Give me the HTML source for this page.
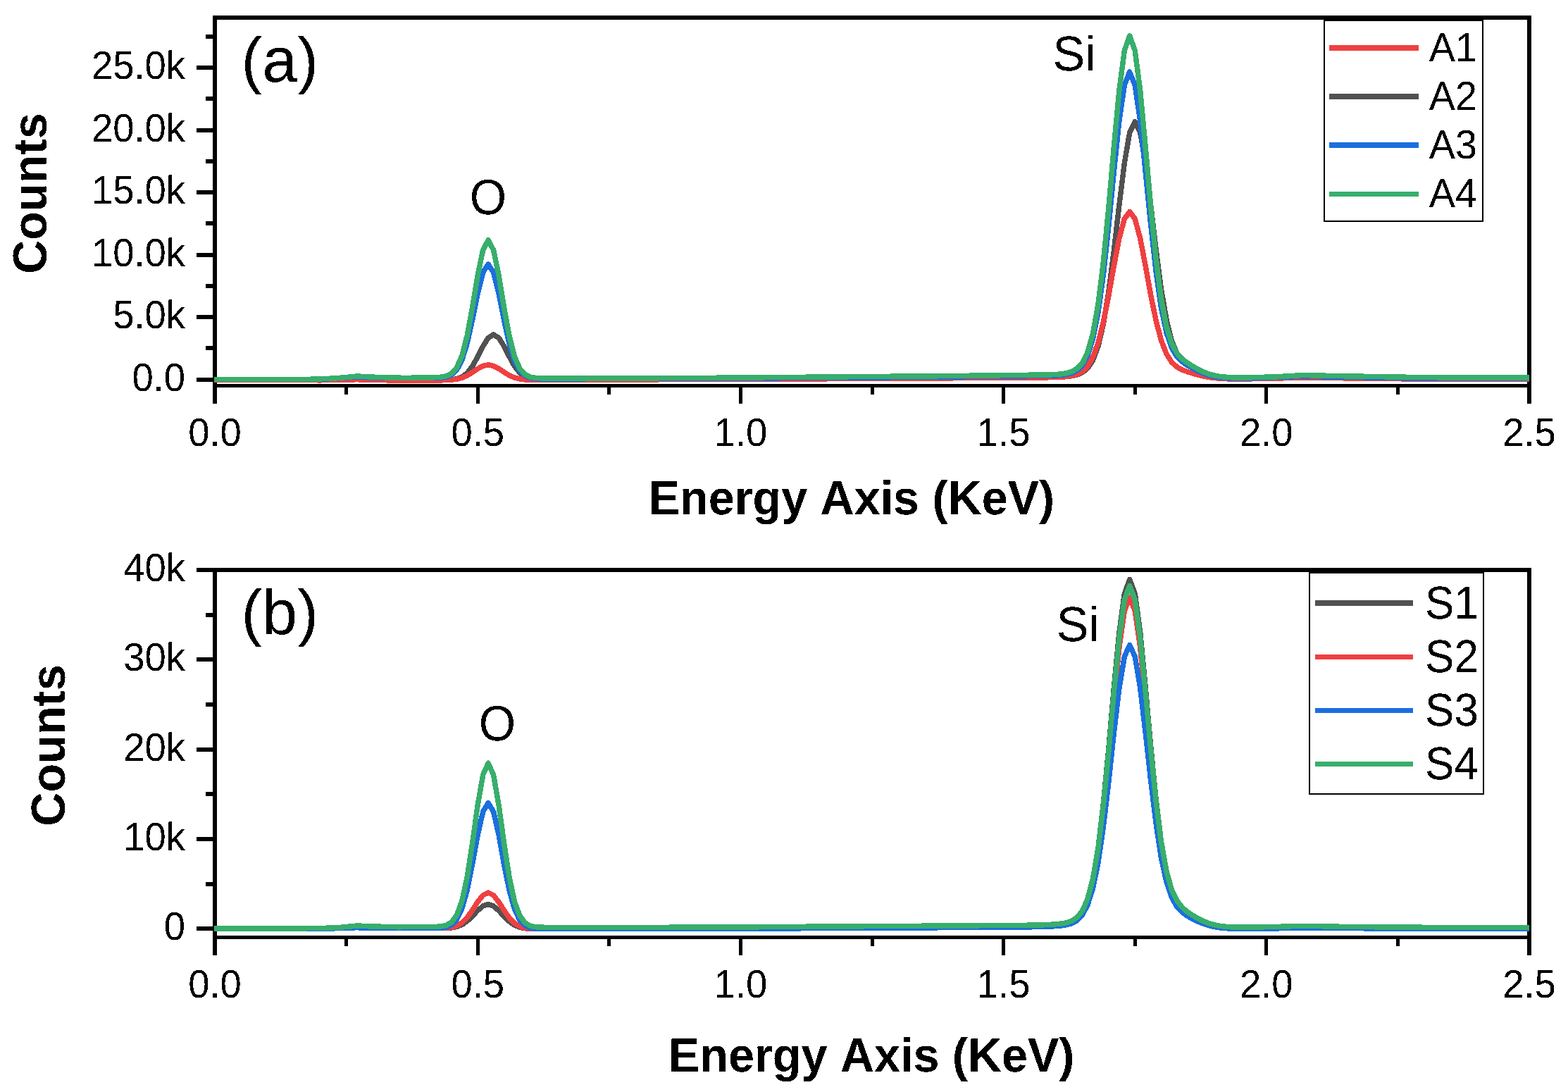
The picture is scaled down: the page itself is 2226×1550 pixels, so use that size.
<!DOCTYPE html>
<html><head><meta charset="utf-8"><title>EDS spectra</title>
<style>html,body{margin:0;padding:0;background:#fff;width:2226px;height:1550px;overflow:hidden}svg{display:block}</style>
</head><body>
<svg width="2226" height="1550" viewBox="0 0 2226 1550">
<rect width="100%" height="100%" fill="#fff"/>
<defs><filter id="bin" x="0" y="0" width="2226" height="1550" filterUnits="userSpaceOnUse" color-interpolation-filters="sRGB"><feComponentTransfer><feFuncA type="discrete" tableValues="0 1"/></feComponentTransfer></filter></defs>
<g fill="#000">
<rect x="302" y="22" width="1872" height="6"/>
<rect x="302" y="22" width="6" height="551"/>
<rect x="2168" y="22" width="6" height="551"/>
<rect x="302" y="545" width="1872" height="5"/>
<rect x="489" y="550" width="5" height="10"/>
<rect x="676" y="550" width="5" height="23"/>
<rect x="862" y="550" width="5" height="10"/>
<rect x="1049" y="550" width="5" height="23"/>
<rect x="1236" y="550" width="5" height="10"/>
<rect x="1422" y="550" width="5" height="23"/>
<rect x="1609" y="550" width="5" height="10"/>
<rect x="1795" y="550" width="5" height="23"/>
<rect x="1982" y="550" width="5" height="10"/>
<rect x="279" y="536" width="23" height="6"/>
<rect x="279" y="447" width="23" height="6"/>
<rect x="279" y="359" width="23" height="6"/>
<rect x="279" y="270" width="23" height="6"/>
<rect x="279" y="182" width="23" height="6"/>
<rect x="279" y="93" width="23" height="6"/>
<rect x="292" y="491" width="10" height="6"/>
<rect x="292" y="403" width="10" height="6"/>
<rect x="292" y="314" width="10" height="6"/>
<rect x="292" y="226" width="10" height="6"/>
<rect x="292" y="137" width="10" height="6"/>
<rect x="292" y="49" width="10" height="6"/>
<rect x="302" y="806" width="1872" height="6"/>
<rect x="302" y="806" width="6" height="550"/>
<rect x="2168" y="806" width="6" height="550"/>
<rect x="302" y="1328" width="1872" height="5"/>
<rect x="489" y="1333" width="5" height="10"/>
<rect x="676" y="1333" width="5" height="23"/>
<rect x="862" y="1333" width="5" height="10"/>
<rect x="1049" y="1333" width="5" height="23"/>
<rect x="1236" y="1333" width="5" height="10"/>
<rect x="1422" y="1333" width="5" height="23"/>
<rect x="1609" y="1333" width="5" height="10"/>
<rect x="1795" y="1333" width="5" height="23"/>
<rect x="1982" y="1333" width="5" height="10"/>
<rect x="279" y="1315" width="23" height="6"/>
<rect x="279" y="1188" width="23" height="6"/>
<rect x="279" y="1061" width="23" height="6"/>
<rect x="279" y="933" width="23" height="6"/>
<rect x="279" y="806" width="23" height="6"/>
<rect x="292" y="1252" width="10" height="6"/>
<rect x="292" y="1124" width="10" height="6"/>
<rect x="292" y="997" width="10" height="6"/>
<rect x="292" y="870" width="10" height="6"/>
</g>
<g fill="none" stroke-width="7.5" stroke-linejoin="round" stroke-linecap="butt" shape-rendering="crispEdges">
<polyline stroke="#515151" points="304.0,539.4 312.5,539.4 319.9,539.4 327.4,539.5 334.9,539.5 342.3,539.5 349.8,539.5 357.2,539.5 364.7,539.5 372.2,539.6 379.6,539.6 387.1,539.6 394.6,539.6 402.0,539.6 409.5,539.7 417.0,539.7 424.4,539.7 431.9,539.7 439.4,539.7 446.8,539.7 454.3,539.8 461.7,539.6 469.2,539.5 476.7,539.3 484.1,539.2 491.6,539.0 499.1,538.9 506.5,538.7 514.0,538.9 521.5,539.0 528.9,539.2 536.4,539.3 543.8,539.5 551.3,539.6 558.8,539.8 566.2,539.9 573.7,539.9 581.2,539.9 588.6,539.8 596.1,539.8 603.6,539.8 611.0,539.7 618.5,539.7 626.0,539.6 633.4,539.5 640.9,539.0 648.3,537.8 655.8,535.0 663.3,529.4 670.7,519.8 678.2,506.4 685.7,491.5 693.1,479.6 700.6,475.0 708.1,479.5 715.5,491.4 723.0,506.2 730.4,519.6 737.9,529.1 745.4,534.8 752.8,537.5 760.3,538.6 767.8,539.0 775.2,539.1 782.7,539.1 790.2,539.1 797.6,539.1 805.1,539.0 812.6,539.0 820.0,539.0 827.5,539.0 834.9,538.9 842.4,538.9 849.9,538.9 857.3,538.9 864.8,538.8 872.3,538.8 879.7,538.8 887.2,538.8 894.7,538.7 902.1,538.7 909.6,538.7 917.0,538.6 924.5,538.6 932.0,538.6 939.4,538.6 946.9,538.5 954.4,538.5 961.8,538.5 969.3,538.5 976.8,538.4 984.2,538.4 991.7,538.4 999.2,538.4 1006.6,538.3 1014.1,538.3 1021.5,538.3 1029.0,538.2 1036.5,538.2 1043.9,538.2 1051.4,538.2 1058.9,538.1 1066.3,538.1 1073.8,538.1 1081.3,538.0 1088.7,538.0 1096.2,538.0 1103.6,537.9 1111.1,537.9 1118.6,537.9 1126.0,537.8 1133.5,537.8 1141.0,537.7 1148.4,537.7 1155.9,537.7 1163.4,537.6 1170.8,537.6 1178.3,537.6 1185.8,537.5 1193.2,537.5 1200.7,537.5 1208.1,537.4 1215.6,537.4 1223.1,537.4 1230.5,537.3 1238.0,537.3 1245.5,537.2 1252.9,537.2 1260.4,537.2 1267.9,537.1 1275.3,537.1 1282.8,537.1 1290.2,537.0 1297.7,537.0 1305.2,536.9 1312.6,536.9 1320.1,536.8 1327.6,536.8 1335.0,536.7 1342.5,536.7 1350.0,536.6 1357.4,536.6 1364.9,536.5 1372.4,536.5 1379.8,536.4 1387.3,536.4 1394.7,536.3 1402.2,536.3 1409.7,536.2 1417.1,536.2 1424.6,536.1 1432.1,536.1 1439.5,536.0 1447.0,536.0 1454.5,535.9 1461.9,535.8 1469.4,535.8 1476.8,535.8 1484.3,535.7 1491.8,535.6 1499.2,535.4 1506.7,535.1 1514.2,534.6 1521.6,533.7 1529.1,532.0 1536.6,528.8 1544.0,522.7 1551.5,511.3 1559.0,491.4 1566.4,459.8 1573.9,414.4 1581.3,356.4 1588.8,291.9 1596.3,231.6 1603.7,188.3 1611.2,172.5 1618.7,188.1 1626.1,231.1 1633.6,290.8 1641.1,354.2 1648.5,410.6 1656.0,454.0 1663.4,483.6 1670.9,501.7 1678.4,512.2 1685.8,518.3 1693.3,522.6 1700.8,526.1 1708.2,529.2 1715.7,532.0 1723.2,534.1 1730.6,535.7 1738.1,536.8 1745.6,537.5 1753.0,537.8 1760.5,538.1 1767.9,537.9 1775.4,537.8 1782.9,537.6 1790.3,537.5 1797.8,537.3 1805.3,537.1 1812.7,536.9 1820.2,536.8 1827.7,536.6 1835.1,536.4 1842.6,536.2 1850.0,536.0 1857.5,536.1 1865.0,536.2 1872.4,536.3 1879.9,536.4 1887.4,536.5 1894.8,536.6 1902.3,536.7 1909.8,536.8 1917.2,536.9 1924.7,537.0 1932.2,537.1 1939.6,537.2 1947.1,537.2 1954.5,537.3 1962.0,537.4 1969.5,537.5 1976.9,537.6 1984.4,537.7 1991.9,537.8 1999.3,537.9 2006.8,538.0 2014.3,538.1 2021.7,538.2 2029.2,538.2 2036.6,538.2 2044.1,538.2 2051.6,538.2 2059.0,538.2 2066.5,538.2 2074.0,538.2 2081.4,538.2 2088.9,538.2 2096.4,538.3 2103.8,538.3 2111.3,538.3 2118.8,538.3 2126.2,538.3 2133.7,538.3 2141.1,538.3 2148.6,538.3 2156.1,538.3 2163.5,538.3 2171.0,538.3"/>
<polyline stroke="#EF4041" points="304.0,539.4 312.5,539.4 319.9,539.4 327.4,539.5 334.9,539.5 342.3,539.5 349.8,539.5 357.2,539.5 364.7,539.5 372.2,539.6 379.6,539.6 387.1,539.6 394.6,539.6 402.0,539.6 409.5,539.7 417.0,539.7 424.4,539.7 431.9,539.7 439.4,539.7 446.8,539.7 454.3,539.8 461.7,539.6 469.2,539.5 476.7,539.3 484.1,539.2 491.6,539.0 499.1,538.9 506.5,538.7 514.0,538.9 521.5,539.1 528.9,539.2 536.4,539.4 543.8,539.6 551.3,539.8 558.8,539.9 566.2,540.1 573.7,540.1 581.2,540.0 588.6,540.0 596.1,540.0 603.6,539.9 611.0,539.9 618.5,539.9 626.0,539.8 633.4,539.6 640.9,539.2 648.3,538.2 655.8,536.3 663.3,533.0 670.7,528.5 678.2,523.4 685.7,519.4 693.1,517.8 700.6,519.4 708.1,523.4 715.5,528.3 723.0,532.8 730.4,536.1 737.9,537.9 745.4,538.9 752.8,539.2 760.3,539.3 767.8,539.3 775.2,539.3 782.7,539.3 790.2,539.3 797.6,539.2 805.1,539.2 812.6,539.2 820.0,539.2 827.5,539.1 834.9,539.1 842.4,539.1 849.9,539.1 857.3,539.0 864.8,539.0 872.3,539.0 879.7,539.0 887.2,538.9 894.7,538.9 902.1,538.9 909.6,538.9 917.0,538.8 924.5,538.8 932.0,538.8 939.4,538.7 946.9,538.7 954.4,538.7 961.8,538.7 969.3,538.6 976.8,538.6 984.2,538.6 991.7,538.6 999.2,538.5 1006.6,538.5 1014.1,538.5 1021.5,538.5 1029.0,538.4 1036.5,538.4 1043.9,538.4 1051.4,538.3 1058.9,538.3 1066.3,538.3 1073.8,538.2 1081.3,538.2 1088.7,538.2 1096.2,538.1 1103.6,538.1 1111.1,538.1 1118.6,538.0 1126.0,538.0 1133.5,538.0 1141.0,537.9 1148.4,537.9 1155.9,537.9 1163.4,537.8 1170.8,537.8 1178.3,537.7 1185.8,537.7 1193.2,537.7 1200.7,537.6 1208.1,537.6 1215.6,537.6 1223.1,537.5 1230.5,537.5 1238.0,537.5 1245.5,537.4 1252.9,537.4 1260.4,537.4 1267.9,537.3 1275.3,537.3 1282.8,537.2 1290.2,537.2 1297.7,537.1 1305.2,537.1 1312.6,537.0 1320.1,537.0 1327.6,536.9 1335.0,536.9 1342.5,536.8 1350.0,536.8 1357.4,536.7 1364.9,536.7 1372.4,536.6 1379.8,536.6 1387.3,536.5 1394.7,536.5 1402.2,536.4 1409.7,536.4 1417.1,536.3 1424.6,536.3 1432.1,536.2 1439.5,536.2 1447.0,536.1 1454.5,536.1 1461.9,536.0 1469.4,536.0 1476.8,535.9 1484.3,535.8 1491.8,535.7 1499.2,535.5 1506.7,535.1 1514.2,534.5 1521.6,533.5 1529.1,531.4 1536.6,527.3 1544.0,520.0 1551.5,507.1 1559.0,486.6 1566.4,457.2 1573.9,419.6 1581.3,377.8 1588.8,338.8 1596.3,310.7 1603.7,300.5 1611.2,310.6 1618.7,338.5 1626.1,377.2 1633.6,418.4 1641.1,455.0 1648.5,483.2 1656.0,502.4 1663.4,514.2 1670.9,521.0 1678.4,525.0 1685.8,527.7 1693.3,530.1 1700.8,532.1 1708.2,533.9 1715.7,535.4 1723.2,536.4 1730.6,537.1 1738.1,537.6 1745.6,537.9 1753.0,538.0 1760.5,538.1 1767.9,538.0 1775.4,537.8 1782.9,537.6 1790.3,537.5 1797.8,537.3 1805.3,537.1 1812.7,536.9 1820.2,536.8 1827.7,536.6 1835.1,536.4 1842.6,536.2 1850.0,536.0 1857.5,536.1 1865.0,536.2 1872.4,536.3 1879.9,536.4 1887.4,536.5 1894.8,536.6 1902.3,536.7 1909.8,536.8 1917.2,536.9 1924.7,537.0 1932.2,537.1 1939.6,537.2 1947.1,537.2 1954.5,537.3 1962.0,537.4 1969.5,537.5 1976.9,537.6 1984.4,537.7 1991.9,537.8 1999.3,537.9 2006.8,538.0 2014.3,538.1 2021.7,538.2 2029.2,538.2 2036.6,538.2 2044.1,538.2 2051.6,538.2 2059.0,538.2 2066.5,538.2 2074.0,538.2 2081.4,538.2 2088.9,538.2 2096.4,538.3 2103.8,538.3 2111.3,538.3 2118.8,538.3 2126.2,538.3 2133.7,538.3 2141.1,538.3 2148.6,538.3 2156.1,538.3 2163.5,538.3 2171.0,538.3"/>
<polyline stroke="#1B6FDE" points="304.0,538.7 312.5,538.7 319.9,538.7 327.4,538.7 334.9,538.7 342.3,538.7 349.8,538.6 357.2,538.6 364.7,538.6 372.2,538.6 379.6,538.6 387.1,538.6 394.6,538.6 402.0,538.6 409.5,538.6 417.0,538.6 424.4,538.6 431.9,538.5 439.4,538.5 446.8,538.5 454.3,538.5 461.7,538.0 469.2,537.6 476.7,537.1 484.1,536.6 491.6,536.1 499.1,535.6 506.5,535.2 514.0,535.5 521.5,535.9 528.9,536.2 536.4,536.6 543.8,536.6 551.3,536.6 558.8,536.6 566.2,536.6 573.7,536.6 581.2,536.6 588.6,536.6 596.1,536.6 603.6,536.6 611.0,536.6 618.5,536.5 626.0,536.2 633.4,535.2 640.9,532.3 648.3,525.4 655.8,511.2 663.3,487.2 670.7,453.6 678.2,416.4 685.7,386.6 693.1,375.1 700.6,386.8 708.1,416.8 715.5,454.2 723.0,488.0 730.4,512.2 737.9,526.5 745.4,533.6 752.8,536.6 760.3,537.6 767.8,537.8 775.2,537.9 782.7,537.9 790.2,537.9 797.6,537.9 805.1,537.8 812.6,537.8 820.0,537.8 827.5,537.8 834.9,537.7 842.4,537.7 849.9,537.7 857.3,537.7 864.8,537.7 872.3,537.6 879.7,537.6 887.2,537.6 894.7,537.6 902.1,537.5 909.6,537.5 917.0,537.5 924.5,537.5 932.0,537.5 939.4,537.4 946.9,537.4 954.4,537.4 961.8,537.4 969.3,537.4 976.8,537.3 984.2,537.3 991.7,537.3 999.2,537.3 1006.6,537.2 1014.1,537.2 1021.5,537.2 1029.0,537.2 1036.5,537.2 1043.9,537.1 1051.4,537.1 1058.9,537.1 1066.3,537.0 1073.8,537.0 1081.3,536.9 1088.7,536.9 1096.2,536.8 1103.6,536.8 1111.1,536.7 1118.6,536.7 1126.0,536.6 1133.5,536.6 1141.0,536.5 1148.4,536.5 1155.9,536.4 1163.4,536.4 1170.8,536.4 1178.3,536.3 1185.8,536.3 1193.2,536.2 1200.7,536.2 1208.1,536.1 1215.6,536.1 1223.1,536.0 1230.5,536.0 1238.0,535.9 1245.5,535.9 1252.9,535.8 1260.4,535.8 1267.9,535.7 1275.3,535.7 1282.8,535.6 1290.2,535.5 1297.7,535.5 1305.2,535.4 1312.6,535.3 1320.1,535.2 1327.6,535.1 1335.0,535.1 1342.5,535.0 1350.0,534.9 1357.4,534.8 1364.9,534.8 1372.4,534.7 1379.8,534.6 1387.3,534.5 1394.7,534.4 1402.2,534.4 1409.7,534.3 1417.1,534.2 1424.6,534.1 1432.1,534.1 1439.5,534.0 1447.0,533.9 1454.5,533.8 1461.9,533.7 1469.4,533.7 1476.8,533.6 1484.3,533.5 1491.8,533.3 1499.2,533.0 1506.7,532.4 1514.2,531.4 1521.6,529.4 1529.1,525.6 1536.6,518.3 1544.0,504.8 1551.5,481.2 1559.0,443.6 1566.4,389.6 1573.9,320.7 1581.3,244.1 1588.8,172.4 1596.3,120.9 1603.7,102.1 1611.2,120.7 1618.7,171.8 1626.1,242.8 1633.6,318.2 1641.1,385.3 1648.5,437.0 1656.0,472.2 1663.4,493.8 1670.9,506.2 1678.4,513.5 1685.8,518.6 1693.3,522.8 1700.8,526.6 1708.2,529.8 1715.7,532.5 1723.2,534.4 1730.6,535.7 1738.1,536.5 1745.6,536.9 1753.0,537.2 1760.5,537.4 1767.9,537.2 1775.4,536.9 1782.9,536.7 1790.3,536.4 1797.8,536.1 1805.3,535.9 1812.7,535.6 1820.2,535.3 1827.7,535.1 1835.1,534.8 1842.6,534.5 1850.0,534.3 1857.5,534.4 1865.0,534.5 1872.4,534.7 1879.9,534.8 1887.4,534.9 1894.8,535.1 1902.3,535.2 1909.8,535.3 1917.2,535.5 1924.7,535.6 1932.2,535.7 1939.6,535.8 1947.1,536.0 1954.5,536.1 1962.0,536.2 1969.5,536.4 1976.9,536.5 1984.4,536.6 1991.9,536.8 1999.3,536.9 2006.8,537.0 2014.3,537.2 2021.7,537.3 2029.2,537.3 2036.6,537.3 2044.1,537.3 2051.6,537.4 2059.0,537.4 2066.5,537.4 2074.0,537.4 2081.4,537.4 2088.9,537.4 2096.4,537.5 2103.8,537.5 2111.3,537.5 2118.8,537.5 2126.2,537.5 2133.7,537.5 2141.1,537.6 2148.6,537.6 2156.1,537.6 2163.5,537.6 2171.0,537.6"/>
<polyline stroke="#38AE6C" points="304.0,538.7 312.5,538.7 319.9,538.7 327.4,538.6 334.9,538.6 342.3,538.6 349.8,538.6 357.2,538.6 364.7,538.5 372.2,538.5 379.6,538.5 387.1,538.5 394.6,538.5 402.0,538.4 409.5,538.4 417.0,538.4 424.4,538.4 431.9,538.4 439.4,538.3 446.8,538.1 454.3,537.8 461.7,537.5 469.2,537.2 476.7,536.9 484.1,536.2 491.6,535.5 499.1,534.7 506.5,534.0 514.0,534.4 521.5,534.8 528.9,535.1 536.4,535.5 543.8,535.7 551.3,535.9 558.8,536.0 566.2,536.2 573.7,536.4 581.2,536.3 588.6,536.2 596.1,536.1 603.6,536.0 611.0,535.9 618.5,535.7 626.0,535.2 633.4,533.9 640.9,530.3 648.3,522.0 655.8,505.0 663.3,476.0 670.7,435.6 678.2,390.8 685.7,354.8 693.1,340.9 700.6,355.0 708.1,391.1 715.5,436.1 723.0,476.8 730.4,505.9 737.9,523.1 745.4,531.6 752.8,535.2 760.3,536.4 767.8,536.8 775.2,536.9 782.7,536.9 790.2,536.9 797.6,536.9 805.1,536.9 812.6,536.9 820.0,536.9 827.5,536.9 834.9,536.9 842.4,536.9 849.9,536.9 857.3,536.9 864.8,536.9 872.3,536.9 879.7,536.9 887.2,536.9 894.7,536.9 902.1,536.9 909.6,536.9 917.0,536.8 924.5,536.8 932.0,536.8 939.4,536.7 946.9,536.7 954.4,536.6 961.8,536.6 969.3,536.5 976.8,536.5 984.2,536.4 991.7,536.4 999.2,536.4 1006.6,536.3 1014.1,536.3 1021.5,536.2 1029.0,536.2 1036.5,536.1 1043.9,536.1 1051.4,536.0 1058.9,536.0 1066.3,535.9 1073.8,535.9 1081.3,535.8 1088.7,535.7 1096.2,535.7 1103.6,535.6 1111.1,535.5 1118.6,535.5 1126.0,535.4 1133.5,535.4 1141.0,535.3 1148.4,535.2 1155.9,535.2 1163.4,535.1 1170.8,535.1 1178.3,535.0 1185.8,534.9 1193.2,534.9 1200.7,534.8 1208.1,534.7 1215.6,534.7 1223.1,534.6 1230.5,534.6 1238.0,534.5 1245.5,534.4 1252.9,534.4 1260.4,534.3 1267.9,534.2 1275.3,534.2 1282.8,534.1 1290.2,534.1 1297.7,534.0 1305.2,533.9 1312.6,533.9 1320.1,533.8 1327.6,533.8 1335.0,533.7 1342.5,533.6 1350.0,533.6 1357.4,533.5 1364.9,533.4 1372.4,533.3 1379.8,533.2 1387.3,533.2 1394.7,533.1 1402.2,533.0 1409.7,532.9 1417.1,532.8 1424.6,532.7 1432.1,532.7 1439.5,532.6 1447.0,532.5 1454.5,532.4 1461.9,532.2 1469.4,532.2 1476.8,532.2 1484.3,532.1 1491.8,531.8 1499.2,531.5 1506.7,530.8 1514.2,529.6 1521.6,527.4 1529.1,523.2 1536.6,515.1 1544.0,499.9 1551.5,473.6 1559.0,431.7 1566.4,371.5 1573.9,294.7 1581.3,209.1 1588.8,129.2 1596.3,71.8 1603.7,50.8 1611.2,71.6 1618.7,128.6 1626.1,207.7 1633.6,291.8 1641.1,366.6 1648.5,424.3 1656.0,463.5 1663.4,487.6 1670.9,501.4 1678.4,509.6 1685.8,515.2 1693.3,519.9 1700.8,524.1 1708.2,527.8 1715.7,530.7 1723.2,532.8 1730.6,534.2 1738.1,535.1 1745.6,535.6 1753.0,536.0 1760.5,536.2 1767.9,536.0 1775.4,535.8 1782.9,535.6 1790.3,535.4 1797.8,535.2 1805.3,535.0 1812.7,534.8 1820.2,534.3 1827.7,533.9 1835.1,533.4 1842.6,533.0 1850.0,532.5 1857.5,532.7 1865.0,532.9 1872.4,533.0 1879.9,533.2 1887.4,533.4 1894.8,533.5 1902.3,533.6 1909.8,533.8 1917.2,533.9 1924.7,534.0 1932.2,534.2 1939.6,534.3 1947.1,534.4 1954.5,534.5 1962.0,534.7 1969.5,534.8 1976.9,534.9 1984.4,535.1 1991.9,535.2 1999.3,535.3 2006.8,535.4 2014.3,535.6 2021.7,535.7 2029.2,535.7 2036.6,535.7 2044.1,535.8 2051.6,535.8 2059.0,535.8 2066.5,535.9 2074.0,535.9 2081.4,535.9 2088.9,535.9 2096.4,536.0 2103.8,536.0 2111.3,536.0 2118.8,536.0 2126.2,536.1 2133.7,536.1 2141.1,536.1 2148.6,536.1 2156.1,536.2 2163.5,536.2 2171.0,536.2"/>
<polyline stroke="#515151" points="304.0,1318.6 312.5,1318.6 319.9,1318.6 327.4,1318.6 334.9,1318.6 342.3,1318.6 349.8,1318.5 357.2,1318.5 364.7,1318.5 372.2,1318.5 379.6,1318.5 387.1,1318.5 394.6,1318.5 402.0,1318.5 409.5,1318.5 417.0,1318.5 424.4,1318.5 431.9,1318.5 439.4,1318.5 446.8,1318.5 454.3,1318.5 461.7,1318.2 469.2,1317.9 476.7,1317.7 484.1,1317.4 491.6,1317.2 499.1,1316.9 506.5,1316.7 514.0,1316.9 521.5,1317.2 528.9,1317.4 536.4,1317.5 543.8,1317.5 551.3,1317.5 558.8,1317.5 566.2,1317.6 573.7,1317.6 581.2,1317.6 588.6,1317.6 596.1,1317.7 603.6,1317.7 611.0,1317.7 618.5,1317.7 626.0,1317.7 633.4,1317.5 640.9,1316.9 648.3,1315.5 655.8,1312.5 663.3,1307.4 670.7,1300.3 678.2,1292.4 685.7,1286.0 693.1,1283.6 700.6,1286.1 708.1,1292.6 715.5,1300.6 723.0,1307.9 730.4,1313.1 737.9,1316.2 745.4,1317.7 752.8,1318.4 760.3,1318.6 767.8,1318.7 775.2,1318.7 782.7,1318.7 790.2,1318.6 797.6,1318.6 805.1,1318.6 812.6,1318.6 820.0,1318.6 827.5,1318.6 834.9,1318.6 842.4,1318.6 849.9,1318.5 857.3,1318.5 864.8,1318.5 872.3,1318.5 879.7,1318.5 887.2,1318.5 894.7,1318.5 902.1,1318.5 909.6,1318.4 917.0,1318.4 924.5,1318.4 932.0,1318.4 939.4,1318.4 946.9,1318.4 954.4,1318.4 961.8,1318.4 969.3,1318.3 976.8,1318.3 984.2,1318.3 991.7,1318.3 999.2,1318.3 1006.6,1318.3 1014.1,1318.3 1021.5,1318.3 1029.0,1318.2 1036.5,1318.2 1043.9,1318.2 1051.4,1318.2 1058.9,1318.2 1066.3,1318.1 1073.8,1318.1 1081.3,1318.0 1088.7,1318.0 1096.2,1318.0 1103.6,1317.9 1111.1,1317.9 1118.6,1317.9 1126.0,1317.8 1133.5,1317.8 1141.0,1317.7 1148.4,1317.7 1155.9,1317.7 1163.4,1317.6 1170.8,1317.6 1178.3,1317.6 1185.8,1317.5 1193.2,1317.5 1200.7,1317.4 1208.1,1317.4 1215.6,1317.4 1223.1,1317.3 1230.5,1317.3 1238.0,1317.2 1245.5,1317.2 1252.9,1317.2 1260.4,1317.1 1267.9,1317.1 1275.3,1317.1 1282.8,1317.0 1290.2,1317.0 1297.7,1316.9 1305.2,1316.9 1312.6,1316.9 1320.1,1316.8 1327.6,1316.8 1335.0,1316.7 1342.5,1316.7 1350.0,1316.7 1357.4,1316.6 1364.9,1316.6 1372.4,1316.5 1379.8,1316.5 1387.3,1316.4 1394.7,1316.4 1402.2,1316.3 1409.7,1316.3 1417.1,1316.2 1424.6,1316.2 1432.1,1316.1 1439.5,1316.0 1447.0,1316.0 1454.5,1315.9 1461.9,1315.8 1469.4,1315.7 1476.8,1315.5 1484.3,1315.2 1491.8,1314.8 1499.2,1314.2 1506.7,1313.5 1514.2,1312.0 1521.6,1309.4 1529.1,1304.3 1536.6,1294.6 1544.0,1277.2 1551.5,1248.0 1559.0,1203.0 1566.4,1140.3 1573.9,1062.2 1581.3,977.0 1588.8,898.7 1596.3,842.9 1603.7,822.6 1611.2,842.5 1618.7,897.7 1626.1,975.1 1633.6,1058.7 1641.1,1134.6 1648.5,1194.7 1656.0,1237.0 1663.4,1264.0 1670.9,1280.1 1678.4,1289.7 1685.8,1296.2 1693.3,1301.3 1700.8,1305.7 1708.2,1309.5 1715.7,1312.6 1723.2,1314.8 1730.6,1316.4 1738.1,1317.4 1745.6,1317.9 1753.0,1318.3 1760.5,1318.5 1767.9,1318.4 1775.4,1318.3 1782.9,1318.2 1790.3,1318.1 1797.8,1318.0 1805.3,1317.9 1812.7,1317.8 1820.2,1317.7 1827.7,1317.6 1835.1,1317.4 1842.6,1317.5 1850.0,1317.5 1857.5,1317.5 1865.0,1317.5 1872.4,1317.5 1879.9,1317.6 1887.4,1317.6 1894.8,1317.6 1902.3,1317.6 1909.8,1317.7 1917.2,1317.7 1924.7,1317.7 1932.2,1317.7 1939.6,1317.8 1947.1,1317.8 1954.5,1317.8 1962.0,1317.8 1969.5,1317.8 1976.9,1317.9 1984.4,1317.9 1991.9,1317.9 1999.3,1317.9 2006.8,1318.0 2014.3,1318.0 2021.7,1318.0 2029.2,1318.0 2036.6,1318.0 2044.1,1318.1 2051.6,1318.1 2059.0,1318.1 2066.5,1318.1 2074.0,1318.2 2081.4,1318.2 2088.9,1318.2 2096.4,1318.2 2103.8,1318.3 2111.3,1318.3 2118.8,1318.3 2126.2,1318.3 2133.7,1318.3 2141.1,1318.4 2148.6,1318.4 2156.1,1318.4 2163.5,1318.4 2171.0,1318.5"/>
<polyline stroke="#EF4041" points="304.0,1318.6 312.5,1318.6 319.9,1318.6 327.4,1318.6 334.9,1318.6 342.3,1318.6 349.8,1318.5 357.2,1318.5 364.7,1318.5 372.2,1318.5 379.6,1318.5 387.1,1318.5 394.6,1318.5 402.0,1318.5 409.5,1318.5 417.0,1318.5 424.4,1318.5 431.9,1318.5 439.4,1318.5 446.8,1318.5 454.3,1318.5 461.7,1318.2 469.2,1317.9 476.7,1317.7 484.1,1317.4 491.6,1317.2 499.1,1316.9 506.5,1316.7 514.0,1316.9 521.5,1317.2 528.9,1317.4 536.4,1317.5 543.8,1317.5 551.3,1317.5 558.8,1317.5 566.2,1317.6 573.7,1317.6 581.2,1317.6 588.6,1317.6 596.1,1317.7 603.6,1317.7 611.0,1317.7 618.5,1317.7 626.0,1317.6 633.4,1317.3 640.9,1316.5 648.3,1314.3 655.8,1309.9 663.3,1302.3 670.7,1291.8 678.2,1280.0 685.7,1270.6 693.1,1267.1 700.6,1270.8 708.1,1280.3 715.5,1292.1 723.0,1302.8 730.4,1310.5 737.9,1315.0 745.4,1317.3 752.8,1318.3 760.3,1318.6 767.8,1318.7 775.2,1318.7 782.7,1318.7 790.2,1318.6 797.6,1318.6 805.1,1318.6 812.6,1318.6 820.0,1318.6 827.5,1318.6 834.9,1318.6 842.4,1318.6 849.9,1318.5 857.3,1318.5 864.8,1318.5 872.3,1318.5 879.7,1318.5 887.2,1318.5 894.7,1318.5 902.1,1318.5 909.6,1318.4 917.0,1318.4 924.5,1318.4 932.0,1318.4 939.4,1318.4 946.9,1318.4 954.4,1318.4 961.8,1318.4 969.3,1318.3 976.8,1318.3 984.2,1318.3 991.7,1318.3 999.2,1318.3 1006.6,1318.3 1014.1,1318.3 1021.5,1318.3 1029.0,1318.2 1036.5,1318.2 1043.9,1318.2 1051.4,1318.2 1058.9,1318.2 1066.3,1318.1 1073.8,1318.1 1081.3,1318.0 1088.7,1318.0 1096.2,1318.0 1103.6,1317.9 1111.1,1317.9 1118.6,1317.9 1126.0,1317.8 1133.5,1317.8 1141.0,1317.7 1148.4,1317.7 1155.9,1317.7 1163.4,1317.6 1170.8,1317.6 1178.3,1317.6 1185.8,1317.5 1193.2,1317.5 1200.7,1317.4 1208.1,1317.4 1215.6,1317.4 1223.1,1317.3 1230.5,1317.3 1238.0,1317.2 1245.5,1317.2 1252.9,1317.2 1260.4,1317.1 1267.9,1317.1 1275.3,1317.1 1282.8,1317.0 1290.2,1317.0 1297.7,1316.9 1305.2,1316.9 1312.6,1316.9 1320.1,1316.8 1327.6,1316.8 1335.0,1316.7 1342.5,1316.7 1350.0,1316.7 1357.4,1316.6 1364.9,1316.6 1372.4,1316.5 1379.8,1316.5 1387.3,1316.4 1394.7,1316.4 1402.2,1316.3 1409.7,1316.3 1417.1,1316.2 1424.6,1316.2 1432.1,1316.1 1439.5,1316.0 1447.0,1316.0 1454.5,1315.9 1461.9,1315.8 1469.4,1315.7 1476.8,1315.5 1484.3,1315.2 1491.8,1314.9 1499.2,1314.3 1506.7,1313.6 1514.2,1312.2 1521.6,1309.7 1529.1,1304.9 1536.6,1295.7 1544.0,1279.2 1551.5,1251.5 1559.0,1208.8 1566.4,1149.3 1573.9,1075.2 1581.3,994.4 1588.8,920.0 1596.3,867.1 1603.7,847.8 1611.2,866.8 1618.7,919.1 1626.1,992.5 1633.6,1071.8 1641.1,1143.9 1648.5,1201.0 1656.0,1241.1 1663.4,1266.7 1670.9,1282.0 1678.4,1291.2 1685.8,1297.3 1693.3,1302.2 1700.8,1306.4 1708.2,1310.0 1715.7,1312.9 1723.2,1315.0 1730.6,1316.5 1738.1,1317.4 1745.6,1318.0 1753.0,1318.3 1760.5,1318.5 1767.9,1318.4 1775.4,1318.3 1782.9,1318.2 1790.3,1318.1 1797.8,1318.0 1805.3,1317.9 1812.7,1317.8 1820.2,1317.7 1827.7,1317.6 1835.1,1317.4 1842.6,1317.5 1850.0,1317.5 1857.5,1317.5 1865.0,1317.5 1872.4,1317.5 1879.9,1317.6 1887.4,1317.6 1894.8,1317.6 1902.3,1317.6 1909.8,1317.7 1917.2,1317.7 1924.7,1317.7 1932.2,1317.7 1939.6,1317.8 1947.1,1317.8 1954.5,1317.8 1962.0,1317.8 1969.5,1317.8 1976.9,1317.9 1984.4,1317.9 1991.9,1317.9 1999.3,1317.9 2006.8,1318.0 2014.3,1318.0 2021.7,1318.0 2029.2,1318.0 2036.6,1318.0 2044.1,1318.1 2051.6,1318.1 2059.0,1318.1 2066.5,1318.1 2074.0,1318.2 2081.4,1318.2 2088.9,1318.2 2096.4,1318.2 2103.8,1318.3 2111.3,1318.3 2118.8,1318.3 2126.2,1318.3 2133.7,1318.3 2141.1,1318.4 2148.6,1318.4 2156.1,1318.4 2163.5,1318.4 2171.0,1318.5"/>
<polyline stroke="#1B6FDE" points="304.0,1318.6 312.5,1318.6 319.9,1318.6 327.4,1318.6 334.9,1318.6 342.3,1318.6 349.8,1318.5 357.2,1318.5 364.7,1318.5 372.2,1318.5 379.6,1318.5 387.1,1318.5 394.6,1318.5 402.0,1318.5 409.5,1318.5 417.0,1318.5 424.4,1318.5 431.9,1318.5 439.4,1318.5 446.8,1318.5 454.3,1318.5 461.7,1318.2 469.2,1317.9 476.7,1317.7 484.1,1317.4 491.6,1317.2 499.1,1316.9 506.5,1316.7 514.0,1316.9 521.5,1317.2 528.9,1317.4 536.4,1317.5 543.8,1317.5 551.3,1317.5 558.8,1317.5 566.2,1317.6 573.7,1317.6 581.2,1317.6 588.6,1317.6 596.1,1317.7 603.6,1317.7 611.0,1317.7 618.5,1317.6 626.0,1317.3 633.4,1316.2 640.9,1313.0 648.3,1305.4 655.8,1289.8 663.3,1263.2 670.7,1226.1 678.2,1185.1 685.7,1152.1 693.1,1139.4 700.6,1152.2 708.1,1185.3 715.5,1226.5 723.0,1263.7 730.4,1290.4 737.9,1306.1 745.4,1313.9 752.8,1317.1 760.3,1318.2 767.8,1318.6 775.2,1318.6 782.7,1318.7 790.2,1318.6 797.6,1318.6 805.1,1318.6 812.6,1318.6 820.0,1318.6 827.5,1318.6 834.9,1318.6 842.4,1318.6 849.9,1318.5 857.3,1318.5 864.8,1318.5 872.3,1318.5 879.7,1318.5 887.2,1318.5 894.7,1318.5 902.1,1318.5 909.6,1318.4 917.0,1318.4 924.5,1318.4 932.0,1318.4 939.4,1318.4 946.9,1318.4 954.4,1318.4 961.8,1318.4 969.3,1318.3 976.8,1318.3 984.2,1318.3 991.7,1318.3 999.2,1318.3 1006.6,1318.3 1014.1,1318.3 1021.5,1318.3 1029.0,1318.2 1036.5,1318.2 1043.9,1318.2 1051.4,1318.2 1058.9,1318.2 1066.3,1318.1 1073.8,1318.1 1081.3,1318.0 1088.7,1318.0 1096.2,1318.0 1103.6,1317.9 1111.1,1317.9 1118.6,1317.9 1126.0,1317.8 1133.5,1317.8 1141.0,1317.7 1148.4,1317.7 1155.9,1317.7 1163.4,1317.6 1170.8,1317.6 1178.3,1317.6 1185.8,1317.5 1193.2,1317.5 1200.7,1317.4 1208.1,1317.4 1215.6,1317.4 1223.1,1317.3 1230.5,1317.3 1238.0,1317.2 1245.5,1317.2 1252.9,1317.2 1260.4,1317.1 1267.9,1317.1 1275.3,1317.1 1282.8,1317.0 1290.2,1317.0 1297.7,1316.9 1305.2,1316.9 1312.6,1316.9 1320.1,1316.8 1327.6,1316.8 1335.0,1316.7 1342.5,1316.7 1350.0,1316.7 1357.4,1316.6 1364.9,1316.6 1372.4,1316.5 1379.8,1316.5 1387.3,1316.4 1394.7,1316.4 1402.2,1316.3 1409.7,1316.3 1417.1,1316.2 1424.6,1316.2 1432.1,1316.1 1439.5,1316.0 1447.0,1316.0 1454.5,1315.9 1461.9,1315.8 1469.4,1315.7 1476.8,1315.5 1484.3,1315.3 1491.8,1315.0 1499.2,1314.5 1506.7,1313.9 1514.2,1312.7 1521.6,1310.6 1529.1,1306.5 1536.6,1298.6 1544.0,1284.5 1551.5,1260.9 1559.0,1224.3 1566.4,1173.4 1573.9,1110.0 1581.3,1040.9 1588.8,977.3 1596.3,932.1 1603.7,915.6 1611.2,931.8 1618.7,976.6 1626.1,1039.4 1633.6,1107.3 1641.1,1169.0 1648.5,1217.8 1656.0,1252.1 1663.4,1274.0 1670.9,1287.1 1678.4,1295.0 1685.8,1300.3 1693.3,1304.4 1700.8,1308.0 1708.2,1311.1 1715.7,1313.6 1723.2,1315.5 1730.6,1316.7 1738.1,1317.5 1745.6,1318.0 1753.0,1318.3 1760.5,1318.5 1767.9,1318.4 1775.4,1318.3 1782.9,1318.2 1790.3,1318.1 1797.8,1318.0 1805.3,1317.9 1812.7,1317.8 1820.2,1317.7 1827.7,1317.6 1835.1,1317.4 1842.6,1317.5 1850.0,1317.5 1857.5,1317.5 1865.0,1317.5 1872.4,1317.5 1879.9,1317.6 1887.4,1317.6 1894.8,1317.6 1902.3,1317.6 1909.8,1317.7 1917.2,1317.7 1924.7,1317.7 1932.2,1317.7 1939.6,1317.8 1947.1,1317.8 1954.5,1317.8 1962.0,1317.8 1969.5,1317.8 1976.9,1317.9 1984.4,1317.9 1991.9,1317.9 1999.3,1317.9 2006.8,1318.0 2014.3,1318.0 2021.7,1318.0 2029.2,1318.0 2036.6,1318.0 2044.1,1318.1 2051.6,1318.1 2059.0,1318.1 2066.5,1318.1 2074.0,1318.2 2081.4,1318.2 2088.9,1318.2 2096.4,1318.2 2103.8,1318.3 2111.3,1318.3 2118.8,1318.3 2126.2,1318.3 2133.7,1318.3 2141.1,1318.4 2148.6,1318.4 2156.1,1318.4 2163.5,1318.4 2171.0,1318.5"/>
<polyline stroke="#38AE6C" points="304.0,1318.2 312.5,1318.2 319.9,1318.1 327.4,1318.1 334.9,1318.1 342.3,1318.1 349.8,1318.0 357.2,1318.0 364.7,1318.0 372.2,1318.0 379.6,1317.9 387.1,1317.9 394.6,1317.9 402.0,1317.9 409.5,1317.8 417.0,1317.8 424.4,1317.8 431.9,1317.8 439.4,1317.7 446.8,1317.7 454.3,1317.7 461.7,1317.3 469.2,1317.0 476.7,1316.6 484.1,1316.3 491.6,1315.5 499.1,1314.8 506.5,1314.0 514.0,1314.3 521.5,1314.7 528.9,1315.0 536.4,1315.2 543.8,1315.3 551.3,1315.5 558.8,1315.6 566.2,1315.8 573.7,1315.7 581.2,1315.7 588.6,1315.7 596.1,1315.6 603.6,1315.6 611.0,1315.5 618.5,1315.4 626.0,1314.9 633.4,1313.4 640.9,1309.2 648.3,1299.2 655.8,1278.9 663.3,1244.4 670.7,1196.1 678.2,1142.7 685.7,1099.8 693.1,1083.2 700.6,1099.9 708.1,1142.9 715.5,1196.5 723.0,1244.8 730.4,1279.5 737.9,1299.9 745.4,1310.0 752.8,1314.2 760.3,1315.7 767.8,1316.2 775.2,1316.3 782.7,1316.3 790.2,1316.3 797.6,1316.3 805.1,1316.3 812.6,1316.3 820.0,1316.3 827.5,1316.4 834.9,1316.4 842.4,1316.4 849.9,1316.4 857.3,1316.4 864.8,1316.4 872.3,1316.4 879.7,1316.4 887.2,1316.4 894.7,1316.4 902.1,1316.4 909.6,1316.4 917.0,1316.4 924.5,1316.3 932.0,1316.3 939.4,1316.3 946.9,1316.3 954.4,1316.2 961.8,1316.2 969.3,1316.2 976.8,1316.2 984.2,1316.1 991.7,1316.1 999.2,1316.1 1006.6,1316.1 1014.1,1316.0 1021.5,1316.0 1029.0,1316.0 1036.5,1316.0 1043.9,1315.9 1051.4,1315.9 1058.9,1315.9 1066.3,1315.8 1073.8,1315.8 1081.3,1315.7 1088.7,1315.7 1096.2,1315.6 1103.6,1315.6 1111.1,1315.5 1118.6,1315.5 1126.0,1315.4 1133.5,1315.3 1141.0,1315.3 1148.4,1315.2 1155.9,1315.2 1163.4,1315.1 1170.8,1315.1 1178.3,1315.0 1185.8,1315.0 1193.2,1314.9 1200.7,1314.9 1208.1,1314.8 1215.6,1314.8 1223.1,1314.8 1230.5,1314.7 1238.0,1314.7 1245.5,1314.6 1252.9,1314.6 1260.4,1314.5 1267.9,1314.5 1275.3,1314.4 1282.8,1314.4 1290.2,1314.4 1297.7,1314.3 1305.2,1314.3 1312.6,1314.2 1320.1,1314.2 1327.6,1314.1 1335.0,1314.1 1342.5,1314.0 1350.0,1314.0 1357.4,1314.0 1364.9,1313.9 1372.4,1313.9 1379.8,1313.8 1387.3,1313.8 1394.7,1313.7 1402.2,1313.7 1409.7,1313.6 1417.1,1313.6 1424.6,1313.5 1432.1,1313.5 1439.5,1313.4 1447.0,1313.4 1454.5,1313.3 1461.9,1313.2 1469.4,1313.1 1476.8,1312.9 1484.3,1312.7 1491.8,1312.3 1499.2,1311.7 1506.7,1311.0 1514.2,1309.7 1521.6,1307.1 1529.1,1302.1 1536.6,1292.8 1544.0,1275.8 1551.5,1247.3 1559.0,1203.3 1566.4,1142.0 1573.9,1065.7 1581.3,982.5 1588.8,905.9 1596.3,851.5 1603.7,831.6 1611.2,851.1 1618.7,905.0 1626.1,980.6 1633.6,1062.3 1641.1,1136.5 1648.5,1195.2 1656.0,1236.6 1663.4,1262.9 1670.9,1278.6 1678.4,1288.1 1685.8,1294.4 1693.3,1299.4 1700.8,1303.7 1708.2,1307.4 1715.7,1310.4 1723.2,1312.6 1730.6,1314.1 1738.1,1315.1 1745.6,1315.7 1753.0,1316.0 1760.5,1316.2 1767.9,1316.1 1775.4,1316.0 1782.9,1315.9 1790.3,1315.8 1797.8,1315.7 1805.3,1315.5 1812.7,1315.4 1820.2,1315.2 1827.7,1314.9 1835.1,1314.7 1842.6,1314.5 1850.0,1314.3 1857.5,1314.4 1865.0,1314.5 1872.4,1314.7 1879.9,1314.8 1887.4,1315.0 1894.8,1315.1 1902.3,1315.3 1909.8,1315.4 1917.2,1315.5 1924.7,1315.5 1932.2,1315.6 1939.6,1315.6 1947.1,1315.7 1954.5,1315.8 1962.0,1315.8 1969.5,1315.9 1976.9,1315.9 1984.4,1316.0 1991.9,1316.1 1999.3,1316.1 2006.8,1316.2 2014.3,1316.2 2021.7,1316.3 2029.2,1316.3 2036.6,1316.3 2044.1,1316.3 2051.6,1316.3 2059.0,1316.3 2066.5,1316.3 2074.0,1316.3 2081.4,1316.3 2088.9,1316.3 2096.4,1316.3 2103.8,1316.3 2111.3,1316.3 2118.8,1316.3 2126.2,1316.3 2133.7,1316.3 2141.1,1316.3 2148.6,1316.3 2156.1,1316.3 2163.5,1316.3 2171.0,1316.3"/>
</g>
<g font-family="Liberation Sans, Arial, sans-serif" fill="#000" style="font-kerning:none;text-rendering:geometricPrecision" filter="url(#bin)">
<text transform="translate(263.00,554.70) scale(1,1.035)" font-size="54.4" text-anchor="end">0.0</text>
<text transform="translate(263.00,466.20) scale(1,1.035)" font-size="54.4" text-anchor="end">5.0k</text>
<text transform="translate(263.00,377.70) scale(1,1.035)" font-size="54.4" text-anchor="end">10.0k</text>
<text transform="translate(263.00,289.20) scale(1,1.035)" font-size="54.4" text-anchor="end">15.0k</text>
<text transform="translate(263.00,200.70) scale(1,1.035)" font-size="54.4" text-anchor="end">20.0k</text>
<text transform="translate(263.00,112.20) scale(1,1.035)" font-size="54.4" text-anchor="end">25.0k</text>
<text transform="translate(263.00,1334.20) scale(1,1.035)" font-size="54.4" text-anchor="end">0</text>
<text transform="translate(263.00,1206.90) scale(1,1.035)" font-size="54.4" text-anchor="end">10k</text>
<text transform="translate(263.00,1079.60) scale(1,1.035)" font-size="54.4" text-anchor="end">20k</text>
<text transform="translate(263.00,952.30) scale(1,1.035)" font-size="54.4" text-anchor="end">30k</text>
<text transform="translate(263.00,825.00) scale(1,1.035)" font-size="54.4" text-anchor="end">40k</text>
<text transform="translate(305.00,633.20) scale(1,1.035)" font-size="54.4" text-anchor="middle">0.0</text>
<text transform="translate(305.00,1416.30) scale(1,1.035)" font-size="54.4" text-anchor="middle">0.0</text>
<text transform="translate(678.20,633.20) scale(1,1.035)" font-size="54.4" text-anchor="middle">0.5</text>
<text transform="translate(678.20,1416.30) scale(1,1.035)" font-size="54.4" text-anchor="middle">0.5</text>
<text transform="translate(1051.40,633.20) scale(1,1.035)" font-size="54.4" text-anchor="middle">1.0</text>
<text transform="translate(1051.40,1416.30) scale(1,1.035)" font-size="54.4" text-anchor="middle">1.0</text>
<text transform="translate(1424.60,633.20) scale(1,1.035)" font-size="54.4" text-anchor="middle">1.5</text>
<text transform="translate(1424.60,1416.30) scale(1,1.035)" font-size="54.4" text-anchor="middle">1.5</text>
<text transform="translate(1797.80,633.20) scale(1,1.035)" font-size="54.4" text-anchor="middle">2.0</text>
<text transform="translate(1797.80,1416.30) scale(1,1.035)" font-size="54.4" text-anchor="middle">2.0</text>
<text transform="translate(2171.00,633.20) scale(1,1.035)" font-size="54.4" text-anchor="middle">2.5</text>
<text transform="translate(2171.00,1416.30) scale(1,1.035)" font-size="54.4" text-anchor="middle">2.5</text>
<text transform="translate(920.70,729.75) scale(1,1.02)" font-size="66.5" font-weight="bold">Energy Axis (KeV)</text>
<text transform="translate(949.00,1520.80) scale(1,1.02)" font-size="66.5" font-weight="bold">Energy Axis (KeV)</text>
<text transform="translate(65.80,388.70) rotate(-90) scale(1,1.02)" font-size="66.3" font-weight="bold">Counts</text>
<text transform="translate(91.90,1172.70) rotate(-90) scale(1,1.02)" font-size="66.7" font-weight="bold">Counts</text>
<text transform="translate(342.55,116.30)" font-size="89.5">(a)</text>
<text transform="translate(342.55,900.30)" font-size="89.5">(b)</text>
<text transform="translate(666.80,304.30) scale(1,1.048)" font-size="67.4">O</text>
<text transform="translate(679.70,1051.30) scale(1,1.048)" font-size="67.4">O</text>
<text transform="translate(1494.60,100.20) scale(1,1.02)" font-size="68.5">Si</text>
<text transform="translate(1499.75,910.00) scale(1,1.02)" font-size="68.5">Si</text>
</g>
<rect x="1880" y="29" width="225" height="285" fill="#fff" stroke="#000" stroke-width="2"/>
<rect x="1859" y="813" width="247" height="314" fill="#fff" stroke="#000" stroke-width="2"/>
<line x1="1887" x2="2014" y1="68.0" y2="68.0" stroke="#EF4041" stroke-width="7.5" shape-rendering="crispEdges"/>
<g font-family="Liberation Sans, Arial, sans-serif" style="font-kerning:none;text-rendering:geometricPrecision" filter="url(#bin)"><text transform="translate(2028.80,86.80) scale(1,1.04)" font-size="55.7">A1</text></g>
<line x1="1887" x2="2014" y1="137.1" y2="137.1" stroke="#515151" stroke-width="7.5" shape-rendering="crispEdges"/>
<g font-family="Liberation Sans, Arial, sans-serif" style="font-kerning:none;text-rendering:geometricPrecision" filter="url(#bin)"><text transform="translate(2028.80,155.85) scale(1,1.04)" font-size="55.7">A2</text></g>
<line x1="1887" x2="2014" y1="206.2" y2="206.2" stroke="#1B6FDE" stroke-width="7.5" shape-rendering="crispEdges"/>
<g font-family="Liberation Sans, Arial, sans-serif" style="font-kerning:none;text-rendering:geometricPrecision" filter="url(#bin)"><text transform="translate(2028.80,224.90) scale(1,1.04)" font-size="55.7">A3</text></g>
<line x1="1887" x2="2014" y1="275.3" y2="275.3" stroke="#38AE6C" stroke-width="7.5" shape-rendering="crispEdges"/>
<g font-family="Liberation Sans, Arial, sans-serif" style="font-kerning:none;text-rendering:geometricPrecision" filter="url(#bin)"><text transform="translate(2028.80,293.95) scale(1,1.04)" font-size="55.7">A4</text></g>
<line x1="1867" x2="2006" y1="856.2" y2="856.2" stroke="#515151" stroke-width="7.5" shape-rendering="crispEdges"/>
<g font-family="Liberation Sans, Arial, sans-serif" style="font-kerning:none;text-rendering:geometricPrecision" filter="url(#bin)"><text transform="translate(2023.10,877.90) scale(1,1.057)" font-size="62">S1</text></g>
<line x1="1867" x2="2006" y1="932.3" y2="932.3" stroke="#EF4041" stroke-width="7.5" shape-rendering="crispEdges"/>
<g font-family="Liberation Sans, Arial, sans-serif" style="font-kerning:none;text-rendering:geometricPrecision" filter="url(#bin)"><text transform="translate(2023.10,954.00) scale(1,1.057)" font-size="62">S2</text></g>
<line x1="1867" x2="2006" y1="1008.4" y2="1008.4" stroke="#1B6FDE" stroke-width="7.5" shape-rendering="crispEdges"/>
<g font-family="Liberation Sans, Arial, sans-serif" style="font-kerning:none;text-rendering:geometricPrecision" filter="url(#bin)"><text transform="translate(2023.10,1030.10) scale(1,1.057)" font-size="62">S3</text></g>
<line x1="1867" x2="2006" y1="1084.5" y2="1084.5" stroke="#38AE6C" stroke-width="7.5" shape-rendering="crispEdges"/>
<g font-family="Liberation Sans, Arial, sans-serif" style="font-kerning:none;text-rendering:geometricPrecision" filter="url(#bin)"><text transform="translate(2023.10,1106.20) scale(1,1.057)" font-size="62">S4</text></g>
<g fill="#000">
<rect x="302" y="22" width="1872" height="6"/>
<rect x="302" y="806" width="1872" height="6"/>
</g>
</svg>
</body></html>
